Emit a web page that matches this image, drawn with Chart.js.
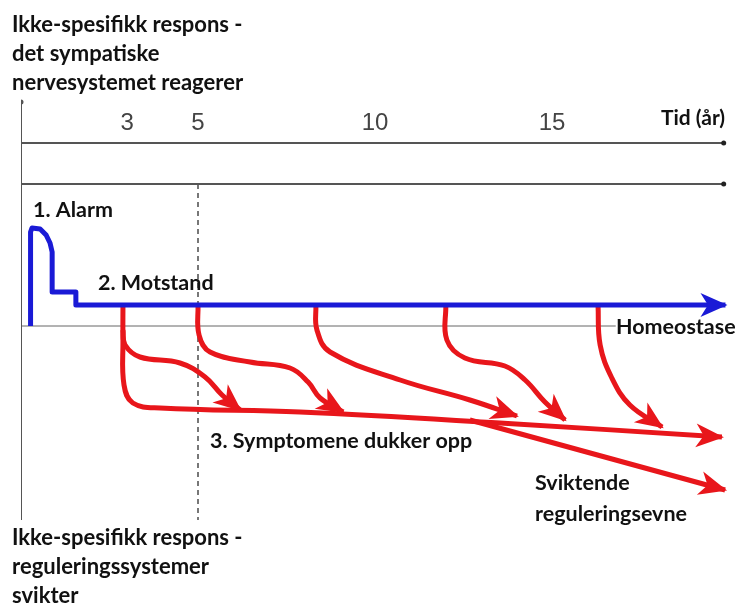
<!DOCTYPE html>
<html>
<head>
<meta charset="utf-8">
<script src="https://cdn.jsdelivr.net/npm/chart.js@4"></script>
<style>
  body { margin: 0; background: #fff; }
  canvas { display: block; }
</style>
</head>
<body>
<canvas id="chart" width="735" height="606"></canvas>
<script>
// x = tid (år), y = nivå relativt til homeostase-linja
const yearTicks = [3, 5, 10, 15];

const alarmX = [0.27, 0.27, 0.31, 0.54, 0.71, 0.82, 0.88, 0.88, 1.55, 1.55, 19.9];
const alarmY = [0, 9.4, 9.8, 9.7, 9.1, 8.3, 7.4, 3.4, 3.4, 2.1, 2.1];

const mainX = [2.88, 2.88, 2.91, 3.16, 3.93, 7.88, 13.53, 19.8];
const mainY = [2.1, -1.4, -5.9, -7.7, -8.2, -8.6, -9.7, -11.1];

const failX = [12.68, 19.89];
const failY = [-9.4, -16.4];

const branchAX = [2.88, 2.94, 3.36, 4.49, 5.2, 5.68, 6.19];
const branchAY = [-0.4, -1.9, -3.1, -3.7, -5.1, -6.9, -8.4];

const branchBX = [5.0, 5.03, 5.34, 6.47, 7.6, 8.11, 8.45, 9.1];
const branchBY = [2.1, -0.9, -2.6, -3.6, -4.2, -5.6, -7.2, -8.6];

const branchCX = [8.33, 8.36, 8.73, 10.71, 12.68, 14.01];
const branchCY = [2.1, -0.4, -2.6, -5.4, -7.4, -9.0];

const branchDX = [12.0, 12.03, 12.54, 13.67, 14.24, 14.8, 15.37];
const branchDY = [2.1, -1.4, -3.2, -4.0, -5.4, -7.6, -9.4];

const branchEX = [16.3, 16.36, 16.69, 17.2, 18.11];
const branchEY = [2.1, -1.9, -5.2, -7.9, -10.1];

// hjelpelinjer
const axisTop = 22.4, axisBottom = -19.4;
const bandY = [18.3, 14.2];
const lineEnd = 19.85;
const baseEnd = 16.8;
const dashedX = 5;

const pts = (xs, ys) => xs.map((x, i) => ({ x: x, y: ys[i] }));

const gray = '#555';
const red = '#e8161b';
const blue = '#1a1ad6';

function redLine(xs, ys) {
  return {
    data: pts(xs, ys),
    borderColor: red,
    borderWidth: 5,
    tension: 0.4,
    pointRadius: 0,
    arrow: 'red',
    order: 2
  };
}

const datasets = [
  {
    data: pts(alarmX, alarmY),
    borderColor: blue,
    borderWidth: 5,
    borderJoinStyle: 'round',
    tension: 0,
    pointRadius: 0,
    arrow: 'blue',
    order: 1
  },
  redLine(mainX, mainY),
  redLine(failX, failY),
  redLine(branchAX, branchAY),
  redLine(branchBX, branchBY),
  redLine(branchCX, branchCY),
  redLine(branchDX, branchDY),
  redLine(branchEX, branchEY),
  // akser
  { data: pts([0, 0], [axisTop, axisBottom]), borderColor: gray, borderWidth: 2, pointRadius: [2.5, 0], pointBackgroundColor: gray, pointBorderWidth: 0, order: 3 },
  { data: pts([0, lineEnd], [bandY[0], bandY[0]]), borderColor: gray, borderWidth: 2, pointRadius: [0, 2.5], pointBackgroundColor: '#222', pointBorderWidth: 0, order: 3 },
  { data: pts([0, lineEnd], [bandY[1], bandY[1]]), borderColor: gray, borderWidth: 2, pointRadius: [0, 2.5], pointBackgroundColor: '#222', pointBorderWidth: 0, order: 3 },
  { data: pts([0, baseEnd], [0, 0]), borderColor: '#666', borderWidth: 1, pointRadius: 0, order: 3 },
  { data: pts([dashedX, dashedX], [bandY[1], axisBottom]), borderColor: '#777', borderWidth: 2, borderDash: [5, 4], pointRadius: 0, order: 3 }
];

const arrowHeads = {
  id: 'arrowHeads',
  afterDatasetsDraw(chart) {
    const ctx = chart.ctx;
    chart.data.datasets.forEach((ds, i) => {
      if (!ds.arrow) return;
      const pts = chart.getDatasetMeta(i).data;
      const a = pts[pts.length - 2], b = pts[pts.length - 1];
      const ang = Math.atan2(b.y - a.y, b.x - a.x);
      const len = ds.arrow === 'blue' ? 25 : 26;
      const half = 12;
      ctx.save();
      ctx.translate(b.x, b.y);
      ctx.rotate(ang);
      ctx.fillStyle = ds.borderColor;
      ctx.beginPath();
      ctx.moveTo(2, 0);
      ctx.lineTo(-len, -half);
      ctx.lineTo(-len * 0.7, 0);
      ctx.lineTo(-len, half);
      ctx.closePath();
      ctx.fill();
      ctx.restore();
    });
  }
};

const labels = {
  id: 'labels',
  afterDraw(chart) {
    const ctx = chart.ctx;
    const xs = chart.scales.x;
    ctx.save();
    ctx.textBaseline = 'alphabetic';
    ctx.fillStyle = '#444';
    ctx.font = '24px "Liberation Sans", Arial, sans-serif';
    ctx.textAlign = 'center';
    yearTicks.forEach(t => ctx.fillText(String(t), xs.getPixelForValue(t), 130));

    ctx.fillStyle = '#111';
    ctx.textAlign = 'left';
    const bold = s => 'bold ' + s + 'px Lato, "Open Sans", sans-serif';
    ctx.font = bold(22);
    ['Ikke-spesifikk respons -', 'det sympatiske', 'nervesystemet reagerer']
      .forEach((s, i) => ctx.fillText(s, 12, 32 + i * 29));
    ['Ikke-spesifikk respons -', 'reguleringssystemer', 'svikter']
      .forEach((s, i) => ctx.fillText(s, 12, 545 + i * 29));
    ctx.font = bold(21.5);
    ctx.fillText('1. Alarm', 33, 217);
    ctx.fillText('2. Motstand', 98, 290);
    ctx.fillText('3. Symptomene dukker opp', 210, 448);
    ctx.fillText('Sviktende', 535, 490);
    ctx.fillText('reguleringsevne', 535, 521);
    ctx.fillText('Homeostase', 616, 334);
    ctx.font = bold(21);
    ctx.fillText('Tid (år)', 661, 125);
    ctx.restore();
  }
};

new Chart(document.querySelector('#chart'), {
  type: 'line',
  data: { datasets: datasets },
  options: {
    responsive: false,
    animation: false,
    layout: { padding: { left: 21, right: 6, top: 96, bottom: 80 } },
    plugins: { legend: { display: false }, tooltip: { enabled: false } },
    scales: {
      x: { type: 'linear', min: 0, max: 20, display: false },
      y: { min: -20, max: 23, display: false }
    }
  },
  plugins: [arrowHeads, labels]
});
</script>
</body>
</html>
